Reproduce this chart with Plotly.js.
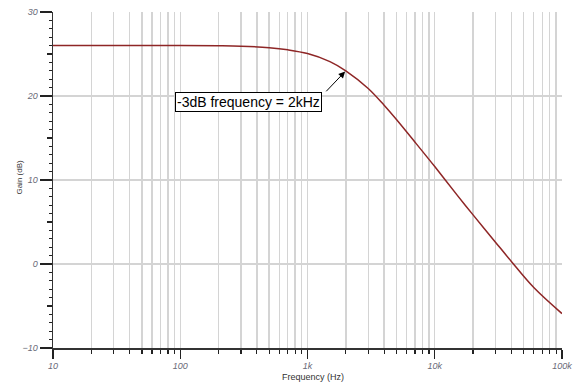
<!DOCTYPE html>
<html>
<head>
<meta charset="utf-8">
<script src="https://cdn.plot.ly/plotly-3.0.1.min.js"></script>
<style>html,body{margin:0;padding:0;background:#fff;}#chart{width:581px;height:385px;}</style>
</head>
<body>
<div id="chart"></div>
<script>
// Frequency response
const freqHz = [10, 30, 100, 200, 300, 500, 700, 1000, 1500, 2000, 3000, 4000, 5000, 7000, 10000, 15000, 20000, 30000, 40000, 60000, 100000];
const gainDb = [26.0, 26.0, 26.0, 25.98, 25.93, 25.75, 25.5, 25.05, 24.1, 23.0, 20.9, 18.9, 17.2, 14.5, 11.6, 8.2, 5.85, 2.6, 0.3, -2.8, -5.9];

const xMajorVals = [10, 100, 1000, 10000, 100000];
const xMajorText = ['10', '100', '1k', '10k', '100k'];
const yMajorVals = [-10, 0, 10, 20, 30];
const yMidVals = [-5, 5, 15, 25];
const annotationText = '-3dB frequency = 2kHz';
const xTitle = 'Frequency (Hz)';
const yTitle = 'Gain (dB)';
const cutoffHz = 2000;
const cutoffGain = 23;

const xMinorVals = [];
for (let d = 10; d < 100000; d *= 10) {
  for (let m = 2; m <= 9; m++) xMinorVals.push(d * m);
}

const fam = 'Liberation Sans, Arial, sans-serif';
const tickFont = {family: fam, size: 9, color: '#6a6a78', style: 'italic'};
const gridCol = '#d4d4d4';

const trace = {
  x: freqHz, y: gainDb, type: 'scatter', mode: 'lines',
  line: {color: '#8e2626', width: 1.5, shape: 'spline', smoothing: 1},
  hoverinfo: 'skip', showlegend: false
};
const trace2 = {x: [10], y: [0], yaxis: 'y2', type: 'scatter', mode: 'markers', marker: {opacity: 0}, hoverinfo: 'skip', showlegend: false};

const layout = {
  width: 581, height: 385,
  margin: {l: 53, r: 19, t: 12, b: 37},
  paper_bgcolor: '#fff', plot_bgcolor: '#fff',
  showlegend: false,
  xaxis: {
    type: 'log', range: [1, 5],
    tickmode: 'array', tickvals: xMajorVals, ticktext: xMajorText,
    ticks: 'outside', ticklen: 9, tickwidth: 1.3, tickcolor: '#222',
    showline: true, linecolor: '#333', linewidth: 1.5,
    showgrid: true, gridcolor: gridCol, gridwidth: 1.4,
    zeroline: false,
    tickfont: tickFont,
    minor: {tickmode: 'array', tickvals: xMinorVals, ticks: 'outside', ticklen: 4, tickwidth: 1.2, tickcolor: '#222', showgrid: true, gridcolor: gridCol, gridwidth: 1.4},
    automargin: false
  },
  yaxis: {
    range: [-10, 30],
    tickmode: 'array', tickvals: yMajorVals,
    ticks: 'outside', ticklen: 12, tickwidth: 1.3, tickcolor: '#222',
    showline: true, linecolor: '#333', linewidth: 1.5,
    showgrid: true, gridcolor: gridCol, gridwidth: 1.4,
    zeroline: false,
    tickfont: tickFont,
    minor: {dtick: 1, ticks: 'outside', ticklen: 3, tickwidth: 1.1, tickcolor: '#222', showgrid: false},
    automargin: false
  },
  yaxis2: {
    overlaying: 'y', side: 'left', range: [-10, 30],
    tickmode: 'array', tickvals: yMidVals, showticklabels: false,
    ticks: 'outside', ticklen: 5, tickwidth: 1.1, tickcolor: '#222',
    showline: false, showgrid: false, zeroline: false
  },
  annotations: [
    {
      x: Math.log10(cutoffHz), y: cutoffGain, xref: 'x', yref: 'y',
      text: annotationText, showarrow: false,
      xshift: -97, yshift: -31,
      font: {family: fam, size: 14, color: '#000'},
      bgcolor: '#fff', bordercolor: '#000', borderwidth: 1, borderpad: 1
    },
    {
      x: Math.log10(cutoffHz), y: cutoffGain, xref: 'x', yref: 'y',
      text: '', showarrow: true, ax: -21, ay: 22,
      arrowhead: 2, arrowsize: 1.3, arrowwidth: 1, arrowcolor: '#000', standoff: 1
    },
    {
      xref: 'paper', yref: 'paper', x: 0.511, y: -0.086, xanchor: 'center', yanchor: 'middle',
      text: xTitle, showarrow: false, font: {family: fam, size: 9, color: '#333'}
    },
    {
      xref: 'paper', yref: 'paper', x: -0.065, y: 0.51, xanchor: 'center', yanchor: 'middle',
      text: yTitle, textangle: -90, showarrow: false, font: {family: fam, size: 8, color: '#333'}
    }
  ]
};

Plotly.newPlot('chart', [trace, trace2], layout, {staticPlot: true, displayModeBar: false});
</script>
</body>
</html>
